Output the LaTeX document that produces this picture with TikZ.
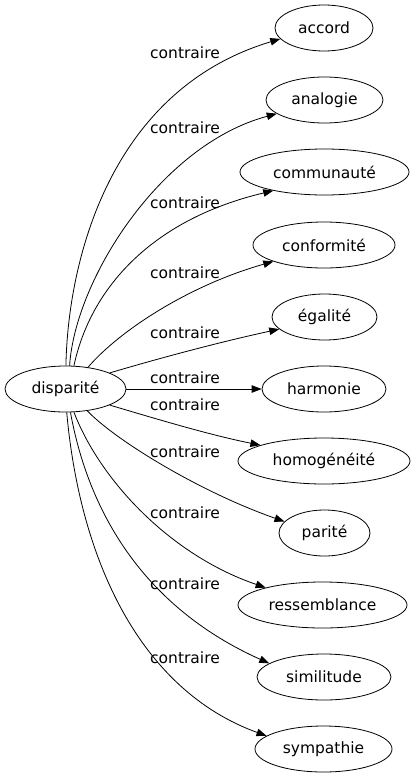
\documentclass[tikz,border=0pt]{standalone}
\usepackage{fontspec}
\setmainfont{DejaVu Sans}
\usetikzlibrary{shapes.geometric,arrows.meta}
\tikzset{
  term/.style={ellipse, draw, line width=0.8pt, minimum height=46pt, inner sep=0pt, font=\fontsize{15.5}{18}\selectfont},
  lbl/.style={inner sep=0pt, font=\fontsize{15.5}{18}\selectfont},
  edge/.style={line width=0.8pt, -{Triangle[length=10pt,width=7.5pt]}}
}
\begin{document}
\begin{tikzpicture}[x=1pt,y=-1pt]
\useasboundingbox (0,0) rectangle (413,779);
\node[term, minimum width=121pt] (d) at (65.5,389) {disparité};
\node[term, minimum width=98pt]  (t1) at (324,28) {accord};
\node[term, minimum width=117pt] (t2) at (324.5,100) {analogie};
\node[term, minimum width=169pt] (t3) at (324.5,172) {communauté};
\node[term, minimum width=142pt] (t4) at (324,245) {conformité};
\node[term, minimum width=105pt] (t5) at (324.5,317) {égalité};
\node[term, minimum width=124pt] (t6) at (324,389) {harmonie};
\node[term, minimum width=172pt] (t7) at (324,461) {homogénéité};
\node[term, minimum width=91pt]  (t8) at (324.5,533) {parité};
\node[term, minimum width=169pt] (t9) at (322.5,605) {ressemblance};
\node[term, minimum width=134pt] (t10) at (324,677) {similitude};
\node[term, minimum width=137pt] (t11) at (323.5,749) {sympathie};

\node[lbl] (l1) at (185,53) {contraire};
\node[lbl] (l2) at (185,128) {contraire};
\node[lbl] (l3) at (185,203) {contraire};
\node[lbl] (l4) at (185,273) {contraire};
\node[lbl] (l5) at (185,333) {contraire};
\node[lbl] (l6) at (185,378) {contraire};
\node[lbl] (l7) at (185,405) {contraire};
\node[lbl] (l8) at (185,452) {contraire};
\node[lbl] (l9) at (185,513) {contraire};
\node[lbl] (l10) at (185,584) {contraire};
\node[lbl] (l11) at (185,658) {contraire};

\draw[edge] (d.89) .. controls (68,260) and (110,90) .. (t1.194);
\draw[edge] (d.80) .. controls (75,280) and (160,145) .. (t2.196);
\draw[edge] (d.70) .. controls (90,290) and (150,220) .. (t3.200);
\draw[edge] (d.44) .. controls (120,330) and (190,285) .. (t4.198);
\draw[edge] (d.20) .. controls (160,358) and (220,342) .. (t5.195);
\draw[edge] (d.east) -- (t6.west);
\draw[edge] (d.-20) .. controls (160,420) and (210,435) .. (t7.166);
\draw[edge] (d.-45) .. controls (115,440) and (200,492) .. (t8.164);
\draw[edge] (d.-70) .. controls (100,480) and (170,555) .. (t9.163);
\draw[edge] (d.-78) .. controls (90,520) and (150,610) .. (t10.166);
\draw[edge] (d.-87) .. controls (80,560) and (140,690) .. (t11.167);
\end{tikzpicture}
\end{document}
